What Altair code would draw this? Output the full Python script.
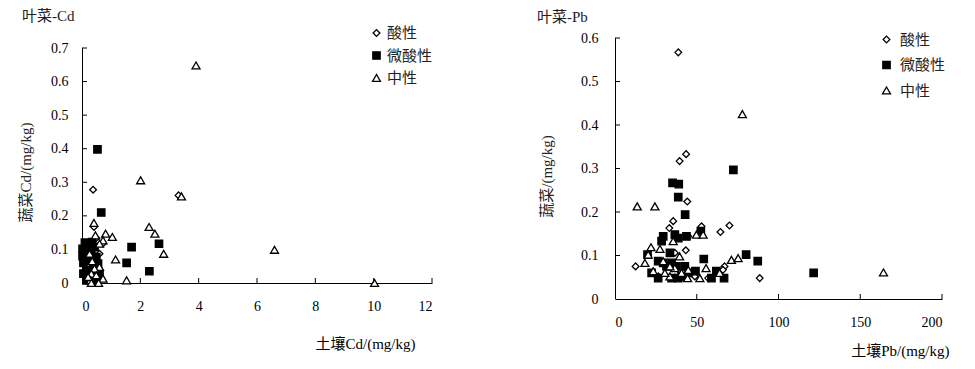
import altair as alt
import pandas as pd

CLASSES = ["酸性", "微酸性", "中性"]

# ---- Leafy vegetables - Cd ----
cd_acid_x = [0.38, 3.31, 0.41, 0.49, 0.71, 0.24, 0.43, 0.15, 0.60, 0.30, 0.20]
cd_acid_y = [0.278, 0.261, 0.167, 0.134, 0.117, 0.013, 0.018, 0.087, 0.087, 0.120, 0.050]

cd_weak_x = [0.53, 0.66, 1.70, 2.64, 1.53, 2.31, 0.02, 0.02, 0.05, 0.20, 0.35, 0.43,
             0.49, 0.55, 0.15, 0.38, 0.15, 0.49, 0.26, 0.60, 0.05, 0.32, 0.10, 0.30]
cd_weak_y = [0.398, 0.210, 0.107, 0.117, 0.060, 0.035, 0.102, 0.080, 0.060, 0.117, 0.122, 0.107,
             0.077, 0.058, 0.038, 0.048, 0.008, 0.008, 0.068, 0.028, 0.028, 0.097, 0.120, 0.020]

cd_neut_x = [3.91, 2.01, 3.41, 2.30, 2.50, 2.80, 1.15, 1.53, 0.81, 1.04, 0.72, 0.60, 0.41, 0.46,
             6.60, 10.03, 0.26, 0.60, 0.43, 0.32, 0.72, 0.29, 0.57, 0.32, 0.49, 0.21, 0.35]
cd_neut_y = [0.648, 0.306, 0.258, 0.167, 0.147, 0.087, 0.070, 0.008, 0.147, 0.137, 0.127, 0.117, 0.179, 0.142,
             0.099, 0.000, 0.087, 0.048, 0.043, 0.028, 0.013, 0.008, 0.000, 0.000, 0.023, 0.018, 0.065]

# ---- Leafy vegetables - Pb ----
pb_acid_x = [38.7, 39.5, 43.5, 44.2, 35.6, 33.2, 52.9, 64.5, 70.0, 43.3, 12.6, 88.5, 67.0, 66.0,
             44.8, 26.5, 36.6, 48.8, 57.0]
pb_acid_y = [0.567, 0.317, 0.333, 0.224, 0.179, 0.163, 0.167, 0.154, 0.169, 0.112, 0.075, 0.048, 0.075, 0.067,
             0.144, 0.052, 0.106, 0.052, 0.048]

pb_weak_x = [35.2, 39.0, 38.7, 42.9, 72.4, 80.2, 87.3, 121.5, 54.3, 52.5, 29.5, 28.5, 36.6, 38.7,
             43.7, 19.9, 22.4, 26.4, 31.5, 34.6, 37.6, 40.7, 34.6, 44.8, 49.2, 59.0, 62.0, 66.7,
             29.5, 33.6, 38.7, 42.7, 26.4]
pb_weak_y = [0.267, 0.264, 0.234, 0.194, 0.297, 0.102, 0.087, 0.060, 0.092, 0.156, 0.144, 0.133, 0.148, 0.140,
             0.144, 0.102, 0.060, 0.048, 0.075, 0.083, 0.075, 0.052, 0.048, 0.060, 0.064, 0.048, 0.064, 0.048,
             0.083, 0.106, 0.048, 0.075, 0.087]

pb_neut_x = [13.6, 24.4, 77.9, 164.2, 22.0, 20.3, 18.3, 27.5, 35.6, 39.5, 49.8, 53.9, 55.7, 71.2,
             75.3, 64.0, 29.5, 33.6, 30.5, 23.4, 44.8, 44.4, 51.9, 40.7, 36.6, 33.6]
pb_neut_y = [0.213, 0.213, 0.425, 0.061, 0.119, 0.102, 0.083, 0.115, 0.133, 0.098, 0.148, 0.148, 0.071, 0.090,
             0.094, 0.060, 0.087, 0.052, 0.060, 0.064, 0.067, 0.048, 0.048, 0.060, 0.071, 0.075]

cd_xticks = [0, 2, 4, 6, 8, 10, 12]
cd_yticks = [0, 0.1, 0.2, 0.3, 0.4, 0.5, 0.6, 0.7]
pb_xticks = [0, 50, 100, 150, 200]
pb_yticks = [0, 0.1, 0.2, 0.3, 0.4, 0.5, 0.6]

FONT = "Liberation Serif, Noto Sans CJK SC"
CJK = "Noto Sans CJK SC"


def make_df(groups):
    rows = []
    for cls, xs, ys in groups:
        for x, y in zip(xs, ys):
            rows.append({"x": x, "y": y, "cls": cls})
    return pd.DataFrame(rows)


def panel(df, xdom, xticks, ydom, yticks, w, h, xtitle, ytitle, title, cfg):
    xs = alt.Scale(domain=xdom, nice=False, zero=False)
    ys = alt.Scale(domain=ydom, nice=False, zero=False)
    xaxis = alt.Axis(values=xticks, format="~r", ticks=False, grid=False, title=xtitle,
                     labelFont=FONT, labelFontSize=14, labelColor="black", labelPadding=cfg["xlp"],
                     domainColor="black", domainWidth=1,
                     titleFont=FONT, titleFontSize=15, titleFontWeight="normal", titleColor="black",
                     titleX=cfg["xtx"], titleY=cfg["xty"], titleAlign="right", titleBaseline="middle")
    yaxis = alt.Axis(values=yticks, format="~r", ticks=False, grid=False, title=ytitle,
                     domain=False,
                     labelFont=FONT, labelFontSize=14, labelColor="black", labelPadding=cfg["ylp"],
                     titleFont=FONT, titleFontSize=15, titleFontWeight="normal", titleColor="#222",
                     titleX=cfg["ytx"], titleY=cfg["yty"], titleAngle=-90, titleAlign="center",
                     titleBaseline="middle")
    leg = alt.Legend(orient="none", legendX=cfg["lx"], legendY=cfg["ly"], title=None,
                     labelFont=CJK, labelFontSize=15, labelColor="#222", rowPadding=cfg["lrp"],
                     padding=0, labelOffset=cfg["lo"], symbolStrokeWidth=1.3)
    points = alt.Chart(df).mark_point(strokeWidth=1.3, opacity=1).encode(
        x=alt.X("x:Q", scale=xs, axis=xaxis),
        y=alt.Y("y:Q", scale=ys, axis=yaxis),
        shape=alt.Shape("cls:N", scale=alt.Scale(domain=CLASSES, range=["diamond", "square", "triangle-up"]), legend=leg),
        fill=alt.Fill("cls:N", scale=alt.Scale(domain=CLASSES, range=["white", "black", "white"]), legend=leg),
        stroke=alt.Stroke("cls:N", scale=alt.Scale(domain=CLASSES, range=["black", "black", "black"]), legend=leg),
        size=alt.Size("cls:N", scale=alt.Scale(domain=CLASSES, range=[45, 64, 72]), legend=leg),
    )
    # y-axis line from the first to the last tick value
    ydom_line = alt.Chart(pd.DataFrame({"y": [yticks[0]], "y2": [yticks[-1]]})).mark_rule(
        color="black", strokeWidth=1).encode(
        y=alt.Y("y:Q", scale=ys, axis=yaxis), y2="y2:Q", x=alt.value(0.5))
    ytk = alt.Chart(pd.DataFrame({"y": yticks[1:]})).mark_rule(color="black", strokeWidth=1).encode(
        y=alt.Y("y:Q", scale=ys, axis=yaxis), x=alt.value(0), x2=alt.value(5))
    xtk = alt.Chart(pd.DataFrame({"x": xticks[1:]})).mark_rule(color="black", strokeWidth=1).encode(
        x=alt.X("x:Q", scale=xs, axis=xaxis), y=alt.value(h), y2=alt.value(h - 5))
    ttl = alt.Chart(pd.DataFrame({"t": [title]})).mark_text(
        align="left", baseline="middle", font=FONT, fontSize=15, color="#222").encode(
        text="t:N", x=alt.value(cfg["tx"]), y=alt.value(cfg["ty"]))
    return alt.layer(points, ydom_line, ytk, xtk, ttl).properties(width=w, height=h)


cd_df = make_df([("酸性", cd_acid_x, cd_acid_y), ("微酸性", cd_weak_x, cd_weak_y), ("中性", cd_neut_x, cd_neut_y)])
pb_df = make_df([("酸性", pb_acid_x, pb_acid_y), ("微酸性", pb_weak_x, pb_weak_y), ("中性", pb_neut_x, pb_neut_y)])

# the Cd panel's axis top sits 9px below the Pb panel's: extend its area upward
LEFT_H = 245
cd_ymax = 0.7 * LEFT_H / 235

left = panel(cd_df, [0, 12], cd_xticks, [0, cd_ymax], cd_yticks, 350, LEFT_H,
             "土壤Cd/(mg/kg)", "蔬菜Cd/(mg/kg)", "叶菜-Cd",
             dict(xlp=16, xtx=333, xty=60, ylp=14, ytx=-57, yty=134,
                  lx=287, ly=-12.5, lrp=6.5, lo=3, tx=-60, ty=-22))
right = panel(pb_df, [0, 200], pb_xticks, [0, 0.6], pb_yticks, 327, 261,
              "土壤Pb/(mg/kg)", "蔬菜/(mg/kg)", "叶菜-Pb",
              dict(xlp=16, xtx=334, xty=51, ylp=17, ytx=-69, yty=138,
                   lx=264, ly=-6, lrp=9.5, lo=6, tx=-78, ty=-21))

chart = alt.concat(left, right, columns=2, spacing=104, align="none").resolve_scale(
    x="independent", y="independent", shape="independent", fill="independent",
    stroke="independent", size="independent"
).resolve_legend(shape="independent", fill="independent", stroke="independent",
                 size="independent").properties(
    padding={"left": 10, "top": 1, "right": 5, "bottom": 5}
).configure_view(stroke=None)

chart.save("out.html", embed_options={"renderer": "svg", "actions": False})
